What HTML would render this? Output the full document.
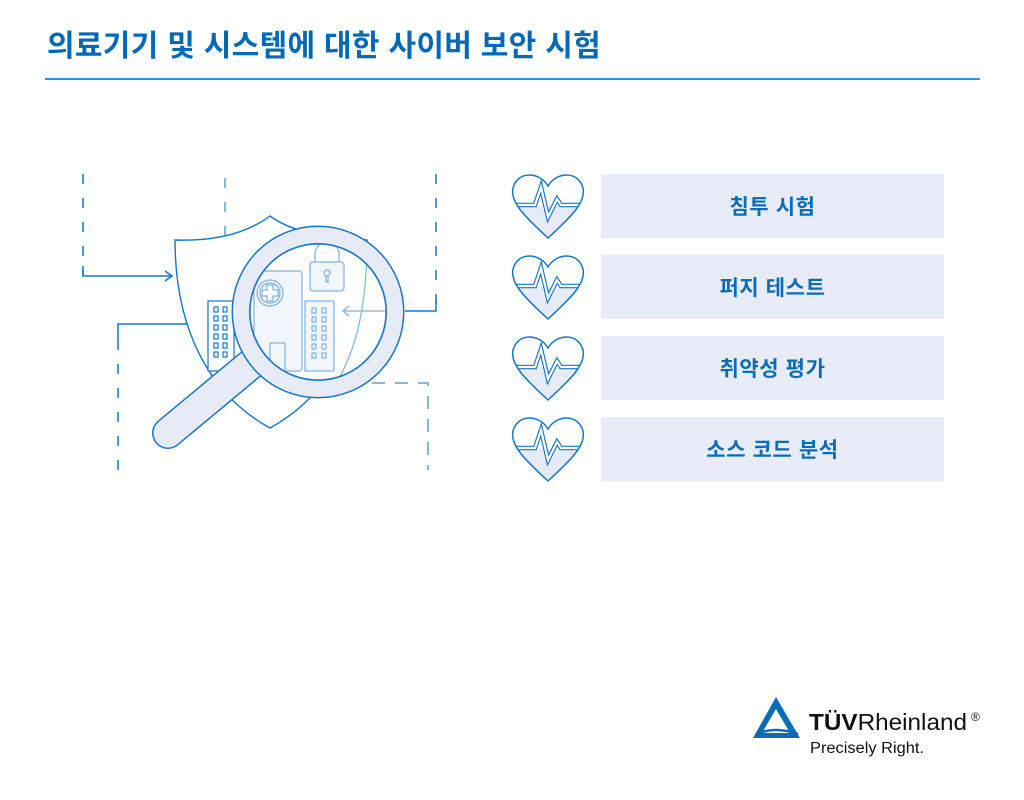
<!DOCTYPE html>
<html><head><meta charset="utf-8">
<style>
html,body{margin:0;padding:0;background:#fff;}
body{width:1024px;height:800px;position:relative;overflow:hidden;font-family:"Liberation Sans","Noto Sans CJK KR",sans-serif;}
.title{position:absolute;left:47px;top:21px;font-size:30px;font-weight:bold;color:#0068b4;letter-spacing:0.3px;white-space:nowrap;}
.rule{position:absolute;left:45px;top:78px;width:935px;height:2px;background:#3a8fcf;}
.box{position:absolute;left:601px;width:343px;height:64px;background:#e8ecf8;color:#0a6cb5;font-size:21px;font-weight:bold;text-align:center;line-height:68px;letter-spacing:0.6px;white-space:nowrap;}
</style></head><body>
<div class="title">의료기기 및 시스템에 대한 사이버 보안 시험</div>
<div class="rule"></div>

<svg width="1024" height="800" style="position:absolute;left:0;top:0">
<defs>
 <clipPath id="lens"><circle cx="318" cy="312" r="68"/></clipPath>
 <clipPath id="hc"><path d="M0,-20 C-8,-34 -30,-36 -35,-18 C-38,-4 -24,10 0,32 C24,10 38,-4 35,-18 C30,-36 8,-34 0,-20 Z"/></clipPath>
 <g id="heart">
  <path d="M0,-20 C-8,-34 -30,-36 -35,-18 C-38,-4 -24,10 0,32 C24,10 38,-4 35,-18 C30,-36 8,-34 0,-20 Z" fill="#fff"/>
  <rect x="-40" y="0" width="80" height="40" fill="#e6ebf7" clip-path="url(#hc)"/>
  <g clip-path="url(#hc)">
   <path d="M-40,-1 L-13,-1 L-7,-19 L0,11 L9,-7 L13,-1 L40,-1" fill="none" stroke="#1a75c0" stroke-width="4.5"/>
   <path d="M-40,-1 L-13,-1 L-7,-19 L0,11 L9,-7 L13,-1 L40,-1" fill="none" stroke="#fff" stroke-width="2.2"/>
  </g>
  <path d="M0,-20 C-8,-34 -30,-36 -35,-18 C-38,-4 -24,10 0,32 C24,10 38,-4 35,-18 C30,-36 8,-34 0,-20 Z" fill="none" stroke="#1a75c0" stroke-width="1.5"/>
 </g>
</defs>

<g fill="none" stroke="#1a75c0" stroke-width="1.5">
 <path d="M83,174 V276" stroke-dasharray="10,14"/>
 <path d="M83,266 V276 H172"/>
 <path d="M165,271 L172,276 L165,281"/>
 <path d="M225,178 V240" stroke="#5a9fd6" stroke-dasharray="10,14"/>
 <path d="M436,174 V311" stroke-dasharray="10,14"/>
 <path d="M436,300 V311 H405"/>
 <path d="M118,470 V345" stroke-dasharray="10,14"/>
 <path d="M118,345 V324 H198"/>
 <path d="M191,319 L198,324 L191,329"/>
 <path d="M372,383 H428 V470" stroke="#5a9fd6" stroke-dasharray="13,10"/>
</g>

<path d="M175,240 Q235,242 270,216 Q300,238 367,240 C367,330 330,395 270,428 C210,395 175,330 175,240 Z" fill="#fff" stroke="#1a75c0" stroke-width="1.4"/>

<g stroke="#1a75c0" stroke-width="1.2" fill="#fff">
 <rect x="208" y="301" width="26" height="70"/>
 <g fill="none">
  <rect x="214" y="307" width="4" height="5"/><rect x="223" y="307" width="4" height="5"/>
  <rect x="214" y="316" width="4" height="5"/><rect x="223" y="316" width="4" height="5"/>
  <rect x="214" y="325" width="4" height="5"/><rect x="223" y="325" width="4" height="5"/>
  <rect x="214" y="334" width="4" height="5"/><rect x="223" y="334" width="4" height="5"/>
  <rect x="214" y="343" width="4" height="5"/><rect x="223" y="343" width="4" height="5"/>
  <rect x="214" y="352" width="4" height="5"/><rect x="223" y="352" width="4" height="5"/>
 </g>
</g>

<line x1="251" y1="364" x2="168" y2="433" stroke="#1a75c0" stroke-width="32" stroke-linecap="round"/>
<line x1="251" y1="364" x2="168" y2="433" stroke="#e6ebf7" stroke-width="29" stroke-linecap="round"/>

<circle cx="318" cy="312" r="77" fill="none" stroke="#1a75c0" stroke-width="19"/>
<circle cx="318" cy="312" r="77" fill="none" stroke="#e6ebf7" stroke-width="16"/>
<circle cx="318" cy="312" r="68" fill="#fff"/>
<g clip-path="url(#lens)" stroke="#7fb0dd" stroke-width="1.2">
 <path d="M367,240 C367,310 355,350 338,380" fill="none"/>
 <rect x="254" y="271" width="48" height="100" rx="3" fill="#f1f5fc"/>
 <circle cx="270" cy="293" r="13" fill="none"/>
 <circle cx="270" cy="293" r="10" fill="none"/>
 <path d="M267,285 h6 v5 h5 v6 h-5 v5 h-6 v-5 h-5 v-6 h5 z" fill="#fff"/>
 <rect x="270" y="343" width="15" height="30" fill="none"/>
 <rect x="310" y="262" width="34" height="29" rx="3" fill="#f1f5fc"/>
 <path d="M315,262 V254 a12,12 0 0 1 24,0 V262" fill="none"/>
 <circle cx="327" cy="273" r="3" fill="none"/>
 <path d="M326,276 v6 h2 v-6" fill="none"/>
 <rect x="305" y="301" width="29" height="70" fill="#f1f5fc"/>
 <g fill="none">
  <rect x="312" y="308" width="4" height="5"/><rect x="322" y="308" width="4" height="5"/>
  <rect x="312" y="317" width="4" height="5"/><rect x="322" y="317" width="4" height="5"/>
  <rect x="312" y="326" width="4" height="5"/><rect x="322" y="326" width="4" height="5"/>
  <rect x="312" y="335" width="4" height="5"/><rect x="322" y="335" width="4" height="5"/>
  <rect x="312" y="344" width="4" height="5"/><rect x="322" y="344" width="4" height="5"/>
  <rect x="312" y="353" width="4" height="5"/><rect x="322" y="353" width="4" height="5"/>
 </g>
 <path d="M390,311 H343 M349,306 L343,311 L349,316" fill="none"/>
</g>
<circle cx="318" cy="312" r="68" fill="none" stroke="#1a75c0" stroke-width="1.3"/>

<use href="#heart" x="548" y="206"/>
<use href="#heart" x="548" y="287"/>
<use href="#heart" x="548" y="368"/>
<use href="#heart" x="548" y="449"/>

<path d="M776,697 L800,738 L753,738 Z" fill="#0a6cb5"/>
<path d="M776,709 L790,733 L762,733 Z" fill="#fff"/>
<path d="M757,734 Q775,726 798,734" fill="none" stroke="#0a6cb5" stroke-width="2.5"/>
<text x="809" y="730" font-family="Liberation Sans,sans-serif" font-size="23" fill="#111" textLength="158" lengthAdjust="spacingAndGlyphs"><tspan font-weight="bold">TÜV</tspan>Rheinland</text>
<text x="971" y="721" font-family="Liberation Sans,sans-serif" font-size="12" fill="#111">®</text>
<text x="810" y="753" font-family="Liberation Sans,sans-serif" font-size="15.5" fill="#111" textLength="114" lengthAdjust="spacingAndGlyphs">Precisely Right.</text>
</svg>

<div class="box" style="top:174px">침투 시험</div>
<div class="box" style="top:255px">퍼지 테스트</div>
<div class="box" style="top:336px">취약성 평가</div>
<div class="box" style="top:417px">소스 코드 분석</div>
</body></html>
